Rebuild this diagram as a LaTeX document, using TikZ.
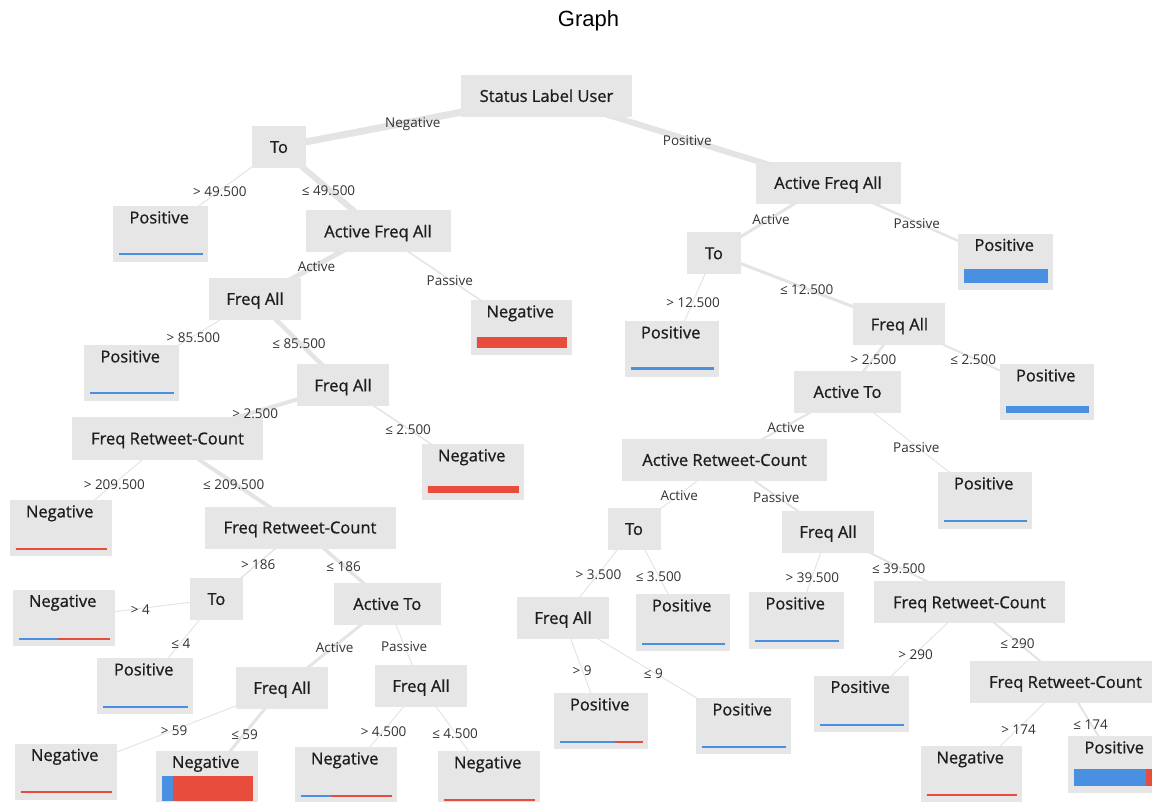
\documentclass[tikz,border=0pt]{standalone}
\usepackage{fontspec}
\setmainfont{Open Sans}
\newfontfamily\nodefont{Open Sans}[FakeBold=0.9]
\newfontfamily\graphtitlefont{Liberation Sans}
\usetikzlibrary{calc}
\pgfdeclarelayer{background}
\pgfsetlayers{background,main}
\definecolor{boxgray}{HTML}{E6E6E6}
\definecolor{edgegray}{HTML}{E4E4E4}
\definecolor{barblue}{HTML}{4A90E2}
\definecolor{barred}{HTML}{E84C3D}
\definecolor{titlecol}{HTML}{1E1E1E}
\definecolor{labelcol}{HTML}{333333}
\tikzset{
  dec/.style={rectangle, fill=boxgray, minimum height=42pt, inner sep=0pt, text=titlecol,
    font=\nodefont\fontsize{16.5}{19}\selectfont, text height=11.8pt, text depth=0pt},
  leafbox/.style={rectangle, fill=boxgray, inner sep=0pt},
  leaftitle/.style={inner sep=0pt, text=titlecol, font=\nodefont\fontsize{16.5}{19}\selectfont,
    text height=11.8pt, text depth=0pt},
  edge/.style={draw=edgegray},
  elabel/.style={inner sep=0pt, text=labelcol, font=\fontsize{13.5}{16}\selectfont,
    text height=9.6pt, text depth=0pt, yshift=-1.2pt},
}
% #1 name, #2 left, #3 top, #4 right, #5 bottom, #6 text, #7 bar height, #8 blue fraction
\newcommand\leafnode[8]{%
  \pgfmathsetmacro\lfw{#4-#2}%
  \pgfmathsetmacro\lfh{#5-#3}%
  \node[leafbox, minimum width=\lfw pt, minimum height=\lfh pt, anchor=north west] (#1) at (#2,#3) {};
  \node[leaftitle] (#1-t) at ($(#1.north)+(-1.5,11.5)$) {#6};
  \pgfmathsetmacro\brl{#2+5.5}%
  \pgfmathsetmacro\brr{#4-5.5}%
  \pgfmathsetmacro\brb{#5-6.5}%
  \pgfmathsetmacro\brt{#5-6.5-#7}%
  \pgfmathsetmacro\brx{\brl+#8*(\brr-\brl)}%
  \fill[barblue] (\brl,\brb) rectangle (\brx,\brt);
  \fill[barred] (\brx,\brb) rectangle (\brr,\brt);
}
% #1 from, #2 to, #3 width, #4 label
\newcommand\edgelab[4]{%
  \begin{pgfonlayer}{background}
    \draw[edge, line width=#3] (#1.center) -- (#2.center);
  \end{pgfonlayer}
  \node[elabel] (#1-#2-lab) at ($(#1.center)!0.5!(#2.center)$) {#4};
}
\begin{document}
\begin{tikzpicture}[x=1pt,y=-1pt]
\useasboundingbox (0,0) rectangle (1152,802);
\clip (0,0) rectangle (1152,802);

\node[font=\graphtitlefont\fontsize{22}{26}\selectfont, anchor=base, inner sep=0pt] (title) at (588.5,27) {Graph};

% decision nodes
\node[dec, minimum width=171pt] (root) at (546.5,96) {Status Label User};
\node[dec, minimum width=54pt] (tL) at (279,147) {To};
\node[dec, minimum width=145pt] (afaL) at (378,231.5) {Active Freq All};
\node[dec, minimum width=92pt] (faL1) at (255,299) {Freq All};
\node[dec, minimum width=92pt] (faL2) at (343,385.5) {Freq All};
\node[dec, minimum width=191pt] (frcL1) at (167.5,438.5) {Freq Retweet-Count};
\node[dec, minimum width=191pt] (frcL2) at (300,527.5) {Freq Retweet-Count};
\node[dec, minimum width=53pt] (tL2) at (216.4,599) {To};
\node[dec, minimum width=107pt] (atL) at (387.3,604) {Active To};
\node[dec, minimum width=92pt] (faL3) at (282,688) {Freq All};
\node[dec, minimum width=92pt] (faL4) at (421,686) {Freq All};
\node[dec, minimum width=145pt] (afaR) at (828,183) {Active Freq All};
\node[dec, minimum width=54pt] (tR) at (714,253.3) {To};
\node[dec, minimum width=92pt] (faR1) at (899.4,324.5) {Freq All};
\node[dec, minimum width=107pt] (atR) at (847.5,392) {Active To};
\node[dec, minimum width=205pt] (arcR) at (724.5,460) {Active Retweet-Count};
\node[dec, minimum width=53pt] (tR2) at (634,529) {To};
\node[dec, minimum width=92pt] (faR2) at (828,532) {Freq All};
\node[dec, minimum width=92pt] (faR3) at (563,618) {Freq All};
\node[dec, minimum width=191pt] (frcR1) at (969.4,602.3) {Freq Retweet-Count};
\node[dec, minimum width=191pt] (frcR2) at (1065.5,682) {Freq Retweet-Count};

% leaves
\leafnode{pA}{113}{206}{208}{261.5}{Positive}{2}{1}
\leafnode{nA}{471}{300}{572}{355}{Negative}{11}{0}
\leafnode{pB}{84}{345}{179}{401}{Positive}{2}{1}
\leafnode{nB}{422}{444}{524}{499.5}{Negative}{7}{0}
\leafnode{nC}{10}{500}{112}{556}{Negative}{2}{0}
\leafnode{nD}{13}{589.5}{115}{646}{Negative}{2}{0.43}
\leafnode{pC}{97}{658}{193}{714}{Positive}{2}{1}
\leafnode{nE}{15}{743.5}{117}{799.5}{Negative}{2}{0}
\leafnode{nF}{156}{750.5}{258}{807}{Negative}{25}{0.13}
\leafnode{nG}{295}{747}{397}{803}{Negative}{2}{0.33}
\leafnode{nH}{438}{751}{540}{807.5}{Negative}{2}{0}
\leafnode{pD}{958}{233.5}{1053}{290}{Positive}{14}{1}
\leafnode{pE}{625}{321}{719}{377}{Positive}{3}{1}
\leafnode{pF}{1000}{364}{1094}{420}{Positive}{7}{1}
\leafnode{pG}{938}{472}{1032}{528.5}{Positive}{2}{1}
\leafnode{pH}{636}{594}{730}{651}{Positive}{2}{1}
\leafnode{pI}{749}{592}{844}{648.5}{Positive}{2.2}{1}
\leafnode{pJ}{554}{693}{648}{749}{Positive}{2}{0.665}
\leafnode{pK}{696}{698}{791}{754}{Positive}{2}{1}
\leafnode{pL}{814}{675.5}{909}{732}{Positive}{2}{1}
\leafnode{nI}{921}{746}{1022}{802.5}{Negative}{2}{0}
\leafnode{pM}{1068}{736}{1163}{792.5}{Positive}{17}{0.86}

% connectors
\edgelab{root}{tL}{7pt}{Negative}
\edgelab{root}{afaR}{6pt}{Positive}
\edgelab{tL}{pA}{1pt}{> 49.500}
\edgelab{tL}{afaL}{6pt}{≤ 49.500}
\edgelab{afaL}{faL1}{5pt}{Active}
\edgelab{afaL}{nA}{1.5pt}{Passive}
\edgelab{faL1}{pB}{1pt}{> 85.500}
\edgelab{faL1}{faL2}{4.5pt}{≤ 85.500}
\edgelab{faL2}{frcL1}{4pt}{> 2.500}
\edgelab{faL2}{nB}{1.5pt}{≤ 2.500}
\edgelab{frcL1}{nC}{1pt}{> 209.500}
\edgelab{frcL1}{frcL2}{4pt}{≤ 209.500}
\edgelab{frcL2}{tL2}{1.5pt}{> 186}
\edgelab{frcL2}{atL}{3.5pt}{≤ 186}
\edgelab{tL2}{nD}{1pt}{> 4}
\edgelab{tL2}{pC}{1pt}{≤ 4}
\edgelab{atL}{faL3}{3pt}{Active}
\edgelab{atL}{faL4}{1pt}{Passive}
\edgelab{faL3}{nE}{1pt}{> 59}
\edgelab{faL3}{nF}{3pt}{≤ 59}
\edgelab{faL4}{nG}{1pt}{> 4.500}
\edgelab{faL4}{nH}{1pt}{≤ 4.500}
\edgelab{afaR}{tR}{3pt}{Active}
\edgelab{afaR}{pD}{2.5pt}{Passive}
\edgelab{tR}{pE}{1pt}{> 12.500}
\edgelab{tR}{faR1}{3pt}{≤ 12.500}
\edgelab{faR1}{atR}{2.5pt}{> 2.500}
\edgelab{faR1}{pF}{2pt}{≤ 2.500}
\edgelab{atR}{arcR}{2pt}{Active}
\edgelab{atR}{pG}{1pt}{Passive}
\edgelab{arcR}{tR2}{1pt}{Active}
\edgelab{arcR}{faR2}{2pt}{Passive}
\edgelab{tR2}{faR3}{1pt}{> 3.500}
\edgelab{tR2}{pH}{1pt}{≤ 3.500}
\edgelab{faR3}{pJ}{1pt}{> 9}
\edgelab{faR3}{pK}{1pt}{≤ 9}
\edgelab{faR2}{pI}{1pt}{> 39.500}
\edgelab{faR2}{frcR1}{2pt}{≤ 39.500}
\edgelab{frcR1}{pL}{1pt}{> 290}
\edgelab{frcR1}{frcR2}{2pt}{≤ 290}
\edgelab{frcR2}{nI}{1pt}{> 174}
\edgelab{frcR2}{pM}{2pt}{≤ 174}
\end{tikzpicture}
\end{document}
